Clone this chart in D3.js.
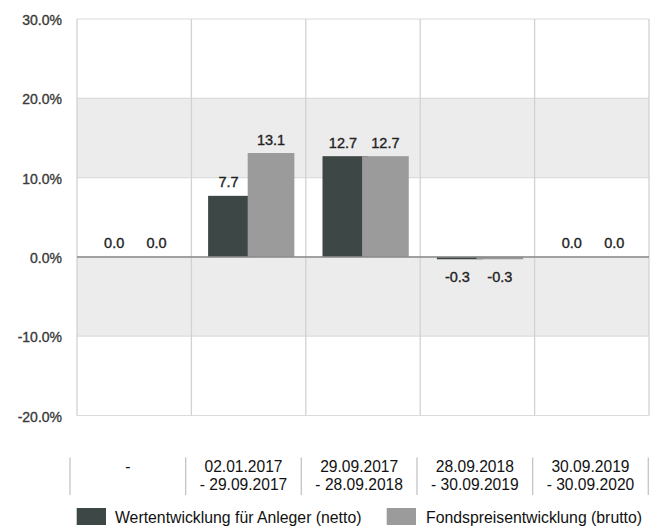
<!DOCTYPE html>
<html>
<head>
<meta charset="utf-8">
<script src="https://cdn.jsdelivr.net/npm/d3@7"></script>
<style>
  html, body { margin: 0; padding: 0; background: #fff; }
  svg { display: block; }
  text { font-family: "Liberation Sans", Arial, sans-serif; }
</style>
</head>
<body>
<svg id="chart" width="654" height="530"></svg>
<script>
const categories = ["c0", "c1", "c2", "c3", "c4"];
const periodLine1 = ["-", "02.01.2017", "29.09.2017", "28.09.2018", "30.09.2019"];
const periodLine2 = ["", "- 29.09.2017", "- 28.09.2018", "- 30.09.2019", "- 30.09.2020"];
const netto = [0.0, 7.7, 12.7, -0.3, 0.0];
const brutto = [0.0, 13.1, 12.7, -0.3, 0.0];
const yTicks = [-20, -10, 0, 10, 20, 30];
const seriesNames = ["Wertentwicklung für Anleger (netto)", "Fondspreisentwicklung (brutto)"];

const svg = d3.select("#chart");
const pLeft = 77, pRight = 649, pTop = 19, pBottom = 415.5;

const x = d3.scaleBand().domain(categories).range([pLeft, pRight]).padding(0);
const y = d3.scaleLinear().domain([-20, 30]).range([pBottom, pTop]);
const bw = x.bandwidth();

// shaded bands
const bands = [[10, 20], [-10, 0]];
svg.selectAll("rect.band").data(bands).enter().append("rect")
  .attr("x", pLeft).attr("width", pRight - pLeft)
  .attr("y", d => y(d[1])).attr("height", d => y(d[0]) - y(d[1]))
  .attr("fill", "#ececec");

// horizontal grid
svg.selectAll("line.hg").data(yTicks).enter().append("line")
  .attr("x1", pLeft).attr("x2", pRight)
  .attr("y1", d => y(d)).attr("y2", d => y(d))
  .attr("stroke", "#dcdcdc").attr("stroke-width", 1.2);

// vertical grid
const vlines = categories.map(c => x(c)).concat([pRight]);
svg.selectAll("line.vg").data(vlines).enter().append("line")
  .attr("x1", d => d).attr("x2", d => d)
  .attr("y1", pTop).attr("y2", pBottom)
  .attr("stroke", "#d2d2d2").attr("stroke-width", 1.3);

// bars
const data = categories.map((c, i) => ({c, n: netto[i], b: brutto[i]}));
svg.selectAll("rect.n").data(data).enter().append("rect")
  .attr("x", d => x(d.c) + bw * 0.146).attr("width", bw * 0.40)
  .attr("y", d => y(Math.max(0, d.n))).attr("height", d => Math.abs(y(d.n) - y(0)))
  .attr("fill", "#3d4745");
svg.selectAll("rect.b").data(data).enter().append("rect")
  .attr("x", d => x(d.c) + bw * 0.492).attr("width", bw * 0.408)
  .attr("y", d => y(Math.max(0, d.b))).attr("height", d => Math.abs(y(d.b) - y(0)))
  .attr("fill", "#9c9b9b");

// zero line
svg.append("line").attr("x1", pLeft).attr("x2", pRight)
  .attr("y1", y(0)).attr("y2", y(0))
  .attr("stroke", "#8a8a8a").attr("stroke-width", 1.5);

// value labels
function lab(val, cx) {
  svg.append("text")
    .attr("x", cx)
    .attr("y", val < 0 ? y(val) + 23 : y(val) - 8.5)
    .attr("text-anchor", "middle")
    .attr("font-size", "14.5px")
    .attr("fill", "#222")
    .attr("stroke", "#222").attr("stroke-width", 0.35)
    .text(val.toFixed(1));
}
data.forEach(d => {
  lab(d.n, x(d.c) + bw * 0.325);
  lab(d.b, x(d.c) + bw * 0.696);
});

// y axis labels
svg.selectAll("text.yl").data(yTicks).enter().append("text")
  .attr("x", 62).attr("y", d => y(d) + 6)
  .attr("text-anchor", "end")
  .attr("font-size", "14px")
  .attr("fill", "#3a3a3a")
  .attr("stroke", "#3a3a3a").attr("stroke-width", 0.35)
  .text(d => d.toFixed(1) + "%");

// category table
const xc = d3.scaleBand().domain(categories).range([70, 648.3]).padding(0);
const seps = categories.map(c => xc(c)).concat([648.3]);
svg.selectAll("line.sep").data(seps).enter().append("line")
  .attr("x1", d => d).attr("x2", d => d)
  .attr("y1", 457.5).attr("y2", 495)
  .attr("stroke", "#c4c4c4").attr("stroke-width", 1.3);
categories.forEach((c, i) => {
  const cx = xc(c) + xc.bandwidth() / 2;
  svg.append("text").attr("x", cx).attr("y", 472).attr("text-anchor", "middle")
    .attr("font-size", "15.6px").attr("fill", "#111").text(periodLine1[i]);
  if (periodLine2[i]) svg.append("text").attr("x", cx).attr("y", 490).attr("text-anchor", "middle")
    .attr("font-size", "15.6px").attr("fill", "#111").text(periodLine2[i]);
});

// legend
const legend = [
  {name: seriesNames[0], color: "#3d4745", sx: 76.7, tx: 115},
  {name: seriesNames[1], color: "#9c9b9b", sx: 386.7, tx: 426}
];
legend.forEach(l => {
  svg.append("rect").attr("x", l.sx).attr("y", 508).attr("width", 29.3).attr("height", 17).attr("fill", l.color);
  svg.append("text").attr("x", l.tx).attr("y", 522.5).attr("font-size", "15.8px").attr("fill", "#111").text(l.name);
});
</script>
</body>
</html>
